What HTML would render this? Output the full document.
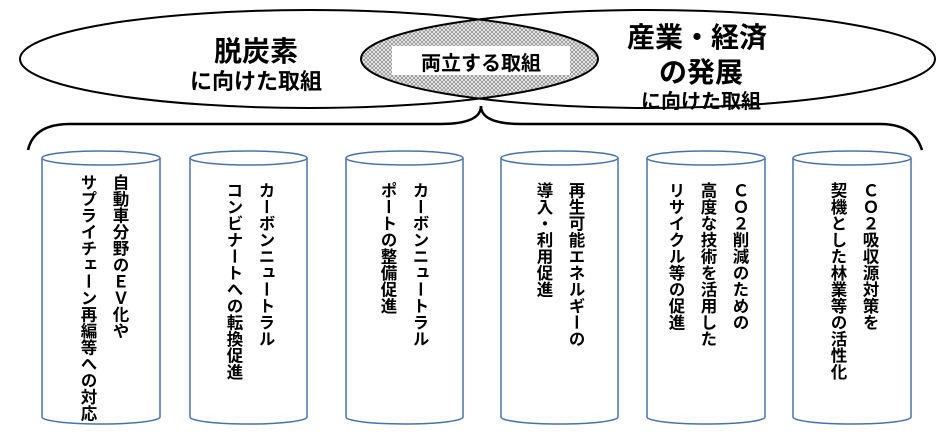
<!DOCTYPE html>
<html><head><meta charset="utf-8"><style>
body{margin:0;width:942px;height:440px;background:#fff;overflow:hidden;position:relative;font-family:"Liberation Sans","Noto Sans CJK JP",sans-serif;}
.v{position:absolute;top:174px;writing-mode:vertical-rl;font-size:16.5px;font-weight:bold;line-height:32px;color:#000;white-space:nowrap;}
.t{position:absolute;font-weight:bold;white-space:nowrap;text-align:center;transform:translateX(-50%);}
</style></head><body>
<svg width="942" height="440" style="position:absolute;left:0;top:0">
<defs>
<pattern id="h" width="4" height="4" patternUnits="userSpaceOnUse">
<rect width="4" height="4" fill="#eaeaea"/>
<path d="M0 0L4 4M4 0L0 4" stroke="#777" stroke-width="0.6"/>
</pattern>
<clipPath id="cl"><ellipse cx="309" cy="59" rx="289" ry="49"/></clipPath>
</defs>
<ellipse cx="648" cy="59" rx="287" ry="49" fill="url(#h)" clip-path="url(#cl)"/>
<ellipse cx="309" cy="59" rx="289" ry="49" fill="none" stroke="#000" stroke-width="2"/>
<ellipse cx="648" cy="59" rx="287" ry="49" fill="none" stroke="#000" stroke-width="2"/>
<path d="M481 106 Q481 124 440 124 L70 124 Q34 124 28 150" fill="none" stroke="#000" stroke-width="2.5"/>
<path d="M481 106 Q481 124 522 124 L880 124 Q914 124 922 150" fill="none" stroke="#000" stroke-width="2.5"/>
<g fill="#fff" stroke="#4a72a8" stroke-width="1.5">
<path d="M42 158 L42 417 A59 7 0 0 0 160 417 L160 158"/><ellipse cx="101" cy="158" rx="59" ry="7"/>
<path d="M190 158 L190 417 A58.5 7 0 0 0 307 417 L307 158"/><ellipse cx="248.5" cy="158" rx="58.5" ry="7"/>
<path d="M346 158 L346 417 A58.5 7 0 0 0 463 417 L463 158"/><ellipse cx="404.5" cy="158" rx="58.5" ry="7"/>
<path d="M501 158 L501 417 A58.5 7 0 0 0 618 417 L618 158"/><ellipse cx="559.5" cy="158" rx="58.5" ry="7"/>
<path d="M647 158 L647 417 A59 7 0 0 0 765 417 L765 158"/><ellipse cx="706" cy="158" rx="59" ry="7"/>
<path d="M793 158 L793 417 A59 7 0 0 0 911 417 L911 158"/><ellipse cx="852" cy="158" rx="59" ry="7"/>
</g>
<rect x="392" y="46" width="178" height="29" fill="#fff"/>
</svg>
<div class="t" style="left:256px;top:30px;font-size:28px">脱炭素</div>
<div class="t" style="left:256px;top:64px;font-size:22px">に向けた取組</div>
<div class="t" style="left:481px;top:47px;font-size:20px">両立する取組</div>
<div class="t" style="left:697px;top:16px;font-size:28px">産業・経済</div>
<div class="t" style="left:701px;top:51px;font-size:28px">の発展</div>
<div class="t" style="left:701px;top:85px;font-size:20px">に向けた取組</div>
<div class="v" style="left:71px;">自動車分野のＥＶ化や<br>サプライチェーン再編等への対応</div>
<div class="v" style="left:217px;top:182px">カーボンニュートラル<br>コンビナートへの転換促進</div>
<div class="v" style="left:371px;top:182px">カーボンニュートラル<br>ポートの整備促進</div>
<div class="v" style="left:527px;top:182px">再生可能エネルギーの<br>導入・利用促進</div>
<div class="v" style="left:659px;top:182px">ＣＯ２削減のための<br>高度な技術を活用した<br>リサイクル等の促進</div>
<div class="v" style="left:821px;top:182px">ＣＯ２吸収源対策を<br>契機とした林業等の活性化</div>
</body></html>
